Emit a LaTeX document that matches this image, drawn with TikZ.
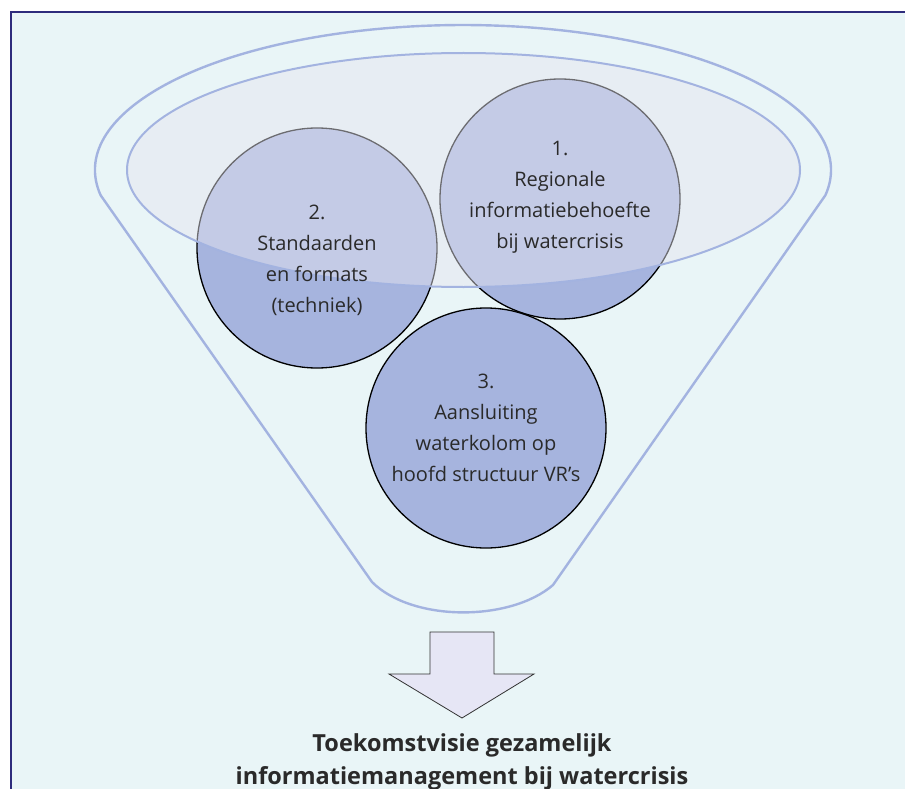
\documentclass[tikz,border=0pt]{standalone}
\usepackage{fontspec}
\setmainfont{Open Sans}
\begin{document}
\definecolor{panel}{HTML}{E9F5F7}
\definecolor{framecol}{HTML}{2E2C7C}
\definecolor{funnelline}{HTML}{A3B3E0}
\definecolor{discfill}{HTML}{A6B4DE}
\definecolor{veil}{HTML}{E6E6F0}
\definecolor{arrowfill}{HTML}{E6E6F5}
\definecolor{inktext}{HTML}{2A2A2A}
\tikzset{
  disc/.style={circle, draw=black, line width=1.3pt, fill=discfill,
    minimum size=240pt, inner sep=0pt},
  disclabel/.style={align=center, text=inktext,
    font=\fontsize{20}{31}\selectfont},
  rim/.style={draw=funnelline, line width=2.4pt, line join=round},
  veilstyle/.style={draw=funnelline, line width=2pt,
    fill=veil, fill opacity=0.47},
  downarrow/.style={draw=black!80, line width=0.8pt, fill=arrowfill},
  caption/.style={align=center, text=inktext,
    font=\fontsize{23.5}{33}\selectfont\bfseries}
}
\begin{tikzpicture}[x=1pt, y=-1pt]
  \useasboundingbox (0,0) rectangle (905,789);
  % page and framed panel (open at right and bottom)
  \fill[white] (0,0) rectangle (905,789);
  \fill[panel] (11,12) rectangle (905,789);
  \draw[framecol, line width=1.6pt] (11,789) -- (11,12) -- (905,12);

  % funnel outline: elliptic rim, straight walls, rounded bottom
  \draw[rim] (372,582) -- (100.6,195.2)
    arc[start angle=170, end angle=370, x radius=368, y radius=145]
    -- (553,585) .. controls (510,622) and (412,622) .. (372,582);

  % the three topic discs
  \node[disc] (c2) at (317,248) {};
  \node[disc] (c1) at (560,199) {};
  \node[disc] (c3) at (486,428) {};

  % translucent opening of the funnel
  \draw[veilstyle] (463.5,170) ellipse[x radius=336.5, y radius=117];

  % disc texts
  \node[disclabel] (t2) at ([yshift=-12pt]c2.center) {2.\\Standaarden\\en formats\\(techniek)};
  \node[disclabel] (t1) at ([yshift=2pt]c1.center) {1.\\Regionale\\informatiebehoefte\\bij watercrisis};
  \node[disclabel] (t3) at (c3.center) {3.\\Aansluiting\\waterkolom op\\hoofd structuur VR’s};

  % outflow arrow
  \draw[downarrow] (430,632) -- (494,632) -- (494,674) -- (534,674)
    -- (462,718) -- (389,674) -- (430,674) -- cycle;

  % result
  \node[caption] (res) at (462,762)
    {Toekomstvisie gezamelijk\\informatiemanagement bij watercrisis};
\end{tikzpicture}
\end{document}
